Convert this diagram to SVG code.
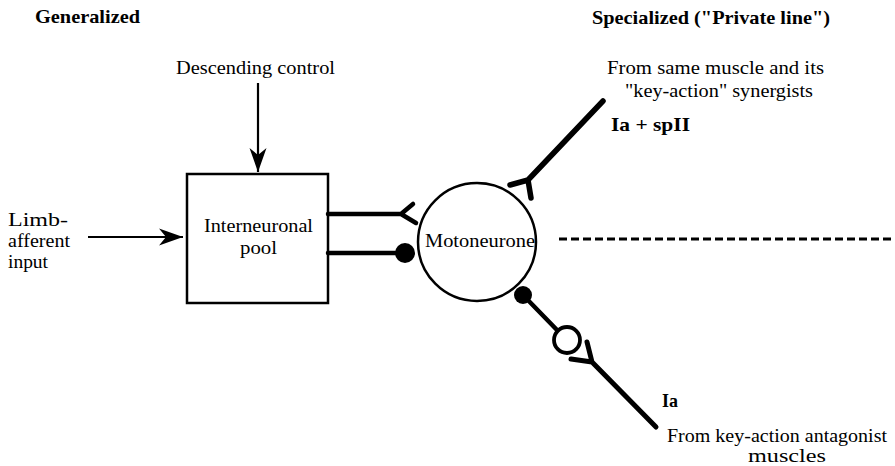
<svg xmlns="http://www.w3.org/2000/svg" width="895" height="466" viewBox="0 0 895 466">
  <style>
    .t { font-family: "Liberation Serif", "Times New Roman", serif; font-size: 19px; fill: #000; }
    .s { font-size: 18px; }
    .b { font-weight: bold; }
    .ax { stroke: #000; fill: none; stroke-linecap: round; stroke-linejoin: round; }
    .thin { stroke: #000; stroke-width: 2.2; fill: none; }
  </style>
  <defs>
    <marker id="arr" markerUnits="userSpaceOnUse" markerWidth="30" markerHeight="20" viewBox="-26 -10 28 20" refX="0" refY="0" orient="auto">
      <path d="M0,0 L-24,-8.5 L-17,0 L-24,8.5 Z" fill="#000"/>
    </marker>
  </defs>
  <rect width="895" height="466" fill="#fff"/>

  <g id="headings">
    <text class="t b" x="35" y="23" textLength="105" lengthAdjust="spacingAndGlyphs">Generalized</text>
    <text class="t b" x="592" y="24" textLength="238" lengthAdjust="spacingAndGlyphs">Specialized ("Private line")</text>
  </g>

  <g id="descending-control">
    <text class="t" x="176" y="74" textLength="159" lengthAdjust="spacingAndGlyphs">Descending control</text>
  </g>

  <g id="limb-afferent-input">
    <text class="t" x="8" y="226" textLength="60" lengthAdjust="spacingAndGlyphs">Limb-</text>
    <text class="t" x="8" y="247" textLength="62" lengthAdjust="spacingAndGlyphs">afferent</text>
    <text class="t" x="8" y="268" textLength="40" lengthAdjust="spacingAndGlyphs">input</text>
  </g>

  <g id="interneuronal-pool">
    <rect x="187" y="174" width="141" height="129" fill="#fff" stroke="#000" stroke-width="2.5"/>
    <text class="t" x="204" y="232" textLength="109" lengthAdjust="spacingAndGlyphs">Interneuronal</text>
    <text class="t" x="240" y="254" textLength="37" lengthAdjust="spacingAndGlyphs">pool</text>
  </g>

  <g id="motoneurone">
    <circle cx="477" cy="242" r="59" fill="#fff" stroke="#000" stroke-width="2.5"/>
    <text class="t" x="425" y="247" textLength="110" lengthAdjust="spacingAndGlyphs">Motoneurone</text>
  </g>

  <g id="synergist-label">
    <text class="t" x="607" y="74" textLength="217" lengthAdjust="spacingAndGlyphs">From same muscle and its</text>
    <text class="t" x="625" y="97" textLength="188" lengthAdjust="spacingAndGlyphs">"key-action" synergists</text>
    <text class="t b" x="611" y="131" textLength="79" lengthAdjust="spacingAndGlyphs">Ia + spII</text>
  </g>

  <g id="antagonist-label">
    <text class="t b" x="662" y="407" textLength="16" lengthAdjust="spacingAndGlyphs">Ia</text>
    <text class="t s" x="667" y="442" textLength="220" lengthAdjust="spacingAndGlyphs">From key-action antagonist</text>
    <text class="t s" x="748" y="462" textLength="78" lengthAdjust="spacingAndGlyphs">muscles</text>
  </g>

  <g id="inhibitory-interneurone">
    <circle cx="567" cy="340" r="13" fill="#fff" stroke="#000" stroke-width="3.8"/>
  </g>

  <g id="connectors">
    <!-- descending control arrow -->
    <line class="thin" x1="258" y1="83" x2="258" y2="172" marker-end="url(#arr)"/>
    <!-- limb afferent arrow -->
    <line class="thin" x1="88" y1="237" x2="183" y2="237" marker-end="url(#arr)"/>
    <!-- excitatory output from pool -->
    <path class="ax" stroke-width="4.5" d="M328,214 L401,214 M413,204 L401,214 L416,223"/>
    <!-- inhibitory output from pool -->
    <line class="ax" stroke-width="4.5" x1="328" y1="253" x2="400" y2="253"/>
    <circle cx="405" cy="253" r="10" fill="#000"/>
    <!-- Ia + spII private line -->
    <path class="ax" stroke-width="5.5" d="M603,101 L528,180 M510,185 L528,180 L531,198"/>
    <!-- antagonist Ia via inhibitory interneurone -->
    <line class="ax" stroke-width="4.5" x1="523" y1="295" x2="557" y2="330"/>
    <circle cx="523" cy="295" r="9" fill="#000"/>
    <path class="ax" stroke-width="5" d="M587,342 L592,362 L571,359 M592,362 L656,427"/>
    <!-- dashed line -->
    <line x1="559" y1="239" x2="893" y2="239" stroke="#000" stroke-width="3" stroke-dasharray="8 4"/>
  </g>
</svg>
